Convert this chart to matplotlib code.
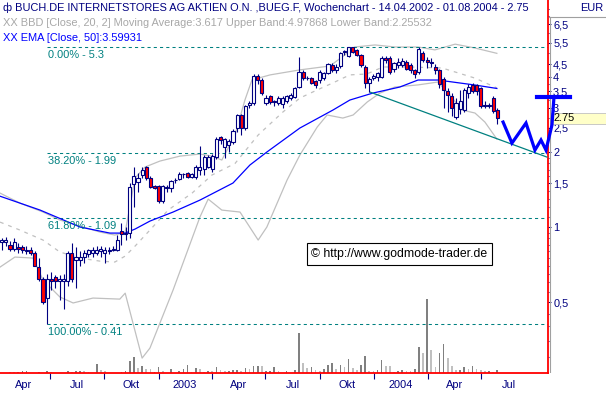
import matplotlib
matplotlib.use("Agg")
import matplotlib.pyplot as plt
from matplotlib.patches import Rectangle
from matplotlib.lines import Line2D
from matplotlib.ticker import FixedLocator, FixedFormatter, NullFormatter
from datetime import date

plt.rcParams['font.family'] = ['Liberation Sans', 'DejaVu Sans']

# ---- weekly candles (week 0 = first bar, 14.04.2002) ----
opens = [0.87, 0.87, 0.85, 0.82, 0.83, 0.83, 0.81, 0.81, 0.79, 0.69,
         0.62, 0.52, 0.62, 0.63, 0.61, 0.61, 0.61, 0.79, 0.74, 0.74,
         0.76, 0.78, 0.79, 0.79, 0.80, 0.79, 0.80, 0.81, 0.81, 0.96,
         0.94, 0.95, 1.49, 1.52, 1.62, 1.74, 1.57, 1.46, 1.46, 1.27,
         1.44, 1.43, 1.54, 1.56, 1.63, 1.65, 1.59, 1.59, 1.70, 1.71,
         1.74, 1.71, 1.91, 2.29, 2.10, 2.13, 2.19, 2.50, 2.81, 2.50,
         3.09, 3.14, 4.04, 3.90, 3.14, 3.35, 3.20, 3.15, 3.12, 3.20,
         3.30, 3.33, 3.65, 4.20, 3.95, 3.97, 3.85, 3.90, 3.97, 4.15,
         4.45, 4.25, 4.42, 5.05, 4.85, 5.28, 5.15, 4.91, 4.38, 3.78,
         3.98, 4.00, 4.00, 4.75, 4.75, 4.30, 4.45, 4.48, 4.60, 4.45,
         4.25, 4.20, 4.98, 4.70, 4.60, 4.40, 4.27, 3.92, 3.52, 3.35,
         2.77, 2.98, 2.95, 3.45, 3.72, 3.70, 3.60, 3.10, 3.08, 3.30,
         2.95]
highs = [0.90, 0.91, 0.88, 0.90, 0.86, 0.85, 0.84, 0.83, 0.80, 0.75,
         0.63, 0.65, 0.66, 0.64, 0.64, 0.65, 0.80, 0.86, 0.83, 0.80,
         0.81, 0.82, 0.83, 0.84, 0.84, 0.83, 0.83, 0.84, 0.93, 1.04,
         1.00, 1.50, 1.74, 1.65, 1.75, 1.76, 1.60, 1.48, 1.48, 1.48,
         1.47, 1.55, 1.58, 1.66, 1.65, 1.67, 1.65, 1.78, 2.11, 1.95,
         1.95, 1.96, 2.30, 2.31, 2.28, 2.25, 2.47, 2.85, 2.85, 3.10,
         3.20, 4.10, 4.12, 3.95, 3.40, 3.40, 3.25, 3.35, 3.35, 3.40,
         3.45, 3.65, 4.80, 4.25, 4.02, 4.00, 3.90, 4.25, 4.20, 4.55,
         4.55, 4.50, 5.05, 5.15, 5.30, 5.30, 5.20, 4.95, 4.45, 4.00,
         4.10, 4.20, 4.85, 4.85, 4.85, 4.60, 4.75, 4.75, 4.70, 4.55,
         4.30, 5.30, 5.10, 4.80, 4.75, 4.50, 4.30, 4.00, 3.60, 3.45,
         3.30, 3.55, 3.60, 3.75, 3.80, 3.75, 3.65, 3.20, 3.15, 3.35,
         3.00]
lows = [0.81, 0.84, 0.80, 0.80, 0.79, 0.79, 0.78, 0.77, 0.70, 0.61,
        0.49, 0.41, 0.56, 0.57, 0.51, 0.47, 0.58, 0.60, 0.57, 0.70,
        0.72, 0.76, 0.76, 0.77, 0.76, 0.72, 0.78, 0.80, 0.80, 0.85,
        0.89, 0.90, 1.20, 1.38, 1.58, 1.55, 1.44, 1.42, 1.25, 1.25,
        1.38, 1.38, 1.50, 1.54, 1.58, 1.57, 1.57, 1.56, 1.62, 1.62,
        1.72, 1.66, 1.88, 2.15, 1.90, 2.00, 2.15, 2.40, 2.35, 2.45,
        3.00, 3.10, 3.75, 3.40, 3.08, 3.12, 3.05, 3.10, 3.00, 3.15,
        3.25, 3.30, 3.60, 3.90, 3.90, 3.75, 3.60, 3.80, 3.90, 4.10,
        4.20, 4.15, 4.35, 4.90, 4.80, 5.00, 4.85, 4.40, 3.60, 3.48,
        3.90, 3.85, 3.95, 4.55, 4.10, 4.20, 4.35, 4.40, 4.25, 4.15,
        3.95, 4.10, 4.60, 4.35, 4.40, 4.10, 3.60, 3.00, 2.90, 2.78,
        2.72, 2.85, 2.90, 3.30, 3.45, 3.40, 3.00, 3.00, 3.00, 2.88,
        2.60]
closes = [0.89, 0.89, 0.82, 0.87, 0.82, 0.81, 0.80, 0.79, 0.70, 0.62,
          0.50, 0.62, 0.61, 0.61, 0.62, 0.62, 0.79, 0.62, 0.76, 0.76,
          0.79, 0.81, 0.81, 0.81, 0.82, 0.81, 0.81, 0.82, 0.89, 0.94,
          0.95, 1.45, 1.60, 1.57, 1.69, 1.57, 1.45, 1.44, 1.27, 1.46,
          1.45, 1.53, 1.55, 1.63, 1.63, 1.59, 1.63, 1.74, 1.74, 1.91,
          1.91, 1.93, 2.25, 2.23, 2.25, 2.21, 2.43, 2.81, 2.50, 3.06,
          3.14, 4.04, 3.90, 3.45, 3.30, 3.17, 3.17, 3.30, 3.30, 3.35,
          3.40, 3.60, 4.20, 3.97, 3.97, 3.80, 3.70, 4.20, 4.15, 4.50,
          4.27, 4.40, 4.98, 5.10, 5.28, 5.05, 4.91, 4.48, 3.78, 3.92,
          4.02, 4.15, 4.77, 4.70, 4.20, 4.55, 4.60, 4.65, 4.30, 4.25,
          4.10, 5.18, 4.70, 4.58, 4.55, 4.27, 3.76, 3.55, 3.39, 3.00,
          3.16, 3.20, 3.55, 3.65, 3.52, 3.50, 3.07, 3.05, 3.05, 2.92,
          2.75]
weeks = list(range(len(closes)))

# ---- volume (relative units), d = dark bar, l = light bar ----
vol_weeks = [2, 3, 4, 5, 6, 9, 11, 12, 16, 17, 18, 19, 20, 21, 23, 24, 25, 29, 30, 31,
             32, 33, 34, 35, 36, 37, 38, 39, 41, 43, 44, 45, 46, 47, 48, 49, 50, 51, 52, 53,
             54, 55, 56, 57, 58, 59, 60, 61, 62, 63, 64, 65, 66, 67, 69, 71, 72, 73, 74, 75,
             76, 77, 78, 79, 80, 81, 82, 83, 84, 85, 86, 87, 88, 89, 90, 91, 92, 93, 94, 95,
             96, 97, 98, 99, 100, 101, 102, 103, 104, 105, 106, 107, 108, 109, 110, 111, 112,
             113, 114, 115, 116, 117, 118, 119, 120]
vol_values = [3, 3, 4, 6, 6, 3, 6, 2, 6, 4, 5, 7, 6, 4, 27, 8, 7, 3, 6, 37,
              48, 15, 21, 12, 11, 4, 18, 6, 12, 7, 12, 24, 4, 15, 12, 4, 6, 6, 18, 9,
              7, 7, 8, 9, 5, 15, 12, 21, 21, 21, 6, 6, 18, 6, 6, 9, 120, 30, 15, 17,
              9, 7, 13, 24, 30, 11, 23, 18, 42, 15, 10, 24, 51, 6, 6, 10, 39, 21, 20, 4,
              6, 9, 7, 7, 12, 78, 61, 222, 69, 19, 61, 87, 45, 20, 9, 10, 18,
              13, 20, 11, 9, 6, 6, 4, 10]
vol_shade = ['l', 'l', 'd', 'd', 'd', 'd', 'd', 'l', 'd', 'l', 'd', 'd', 'l', 'l', 'd', 'l', 'l', 'd', 'd', 'd',
             'd', 'l', 'd', 'l', 'l', 'd', 'd', 'l', 'd', 'd', 'd', 'd', 'l', 'd', 'l', 'l', 'd', 'l', 'd', 'l',
             'l', 'd', 'd', 'd', 'l', 'd', 'l', 'd', 'd', 'l', 'd', 'd', 'd', 'l', 'd', 'd', 'd', 'l', 'l', 'd',
             'l', 'l', 'd', 'd', 'd', 'l', 'd', 'l', 'd', 'l', 'l', 'd', 'd', 'l', 'l', 'd', 'd', 'l', 'l', 'l',
             'd', 'd', 'l', 'l', 'd', 'd', 'l', 'd', 'l', 'l', 'd', 'd', 'l', 'l', 'l', 'd', 'd',
             'l', 'd', 'l', 'l', 'l', 'd', 'l', 'd']

# ---- indicator lines (week, price) ----
ema_weeks = [-0.4, 9.3, 19.0, 26.2, 29.9, 32.3, 35.9, 41.5, 48.0, 56.0, 60.1, 64.2,
             72.2, 80.2, 84.3, 89.9, 96.4, 100.8, 105.6, 114.6, 119.9]
ema_prices = [1.33, 1.17, 1.00, 0.946, 0.946, 0.982, 1.057, 1.149, 1.283, 1.502, 1.774, 2.0,
              2.497, 2.948, 3.234, 3.45, 3.647, 3.891, 3.891, 3.715, 3.599]

bb_up_weeks = [-0.4, 4.4, 10.0, 14.1, 19.0, 23.8, 27.4, 29.9, 31.1, 32.3, 34.7, 38.3, 43.2,
               48.0, 50.9, 53.3, 56.5, 58.9, 60.6, 65.0, 72.2, 79.5, 83.1, 85.5, 90.4,
               95.2, 100.8, 104.9, 109.8, 114.6, 119.9]
bb_up_prices = [1.369, 1.248, 1.149, 1.067, 1.009, 0.955, 0.929, 0.955, 1.225, 1.573, 1.741,
                1.84, 1.927, 1.963, 1.927, 1.858, 2.341, 3.237, 3.895, 4.08, 4.273, 4.43, 4.91,
                5.28, 5.38, 5.28, 5.28, 5.14, 5.42, 5.23, 4.979]

bb_mid_weeks = [-0.4, 4.4, 10.0, 14.1, 19.0, 23.8, 27.4, 29.9, 32.3, 35.9, 40.3, 46.1, 50.9,
                56.5, 62.1, 68.1, 72.2, 76.4, 80.2, 84.3, 88.4, 92.3, 98.4, 106.6, 109.8,
                114.6, 119.9]
bb_mid_prices = [1.047, 0.973, 0.887, 0.794, 0.751, 0.73, 0.724, 0.765, 0.839, 0.973, 1.17,
                 1.369, 1.617, 1.80, 2.341, 2.896, 3.294, 3.551, 3.789, 4.08, 4.113, 4.389,
                 4.389, 4.35, 4.19, 3.96, 3.617]

bb_low_weeks = [-0.4, 3.2, 7.6, 10.0, 14.1, 17.3, 22.1, 28.6, 29.9, 34.0, 35.9, 41.5, 48.0,
                50.0, 53.3, 57.7, 62.1, 64.2, 69.1, 72.2, 76.4, 78.8, 82.6, 85.1, 88.5,
                91.6, 95.2, 100.8, 105.6, 108.5, 111.4, 114.6, 117.0, 119.9]
bb_low_prices = [0.691, 0.758, 0.751, 0.613, 0.524, 0.496, 0.519, 0.514, 0.543, 0.298, 0.327,
                 0.559, 1.097, 1.295, 1.17, 1.149, 0.887, 1.0, 1.544, 1.946, 2.52, 2.817,
                 2.738, 2.817, 3.175, 3.45, 3.647, 3.719, 3.819, 3.39, 2.951, 2.868, 2.639,
                 2.255]

# Fibonacci retracement from the low (week 11) to the high
fib_start_week = 11
fib_levels = [5.3, 1.99, 1.09, 0.41]
fib_labels = ['0.00% - 5.3', '38.20% - 1.99', '61.80% - 1.09', '100.00% - 0.41']

# support trendline
trend_weeks = [89.2, 132.0]
trend_prices = [3.48, 1.91]

# hand drawn projection (blue "W" and bar)
w_weeks = [121.4, 123.55, 126.95, 129.12, 130.58, 131.79, 133.24, 133.73]
w_prices = [2.639, 2.173, 2.615, 2.037, 2.235, 2.037, 2.567, 3.325]
bar_weeks = [129.6, 137.6]
bar_prices = [3.325, 3.325]

ytick_vals = [6.5, 5.5, 4.5, 4, 3.5, 3, 2.5, 2, 1.5, 1, 0.5, 0.25]
ytick_labels = ['6,5', '5,5', '4,5', '4', '3,5', '3', '2,5', '2', '1,5', '1', '0,5', '0,25']

chart_start = date(2002, 4, 10)
quarters = [date(2002, 4, 1), date(2002, 7, 1), date(2002, 10, 1), date(2003, 1, 1),
            date(2003, 4, 1), date(2003, 7, 1), date(2003, 10, 1), date(2004, 1, 1),
            date(2004, 4, 1), date(2004, 7, 1), date(2004, 10, 1)]
quarter_labels = ['Apr', 'Jul', 'Okt', '2003', 'Apr', 'Jul', 'Okt', '2004', 'Apr', 'Jul']

NAVY = '#000080'
RED = '#ff0000'
TEAL = '#008080'
SILVER = '#c0c0c0'

W, H = 606, 397
def fx(px):
    return px / W
def fy(py):
    return 1 - py / H

def week_of(d):
    return (d - chart_start).days / 7.0

fig = plt.figure(figsize=(W / 100, H / 100), dpi=100)
rect = [0, fy(373), 548 / W, 373 / H]
xlim = (-0.41, 132.28)
ylim = (0.2597, 8.15)

# volume panel underneath
axv = fig.add_axes(rect)
axv.bar(vol_weeks, vol_values, width=0.4,
        color=['#808080' if s == 'd' else SILVER for s in vol_shade])
axv.set_xlim(*xlim)
axv.set_ylim(0, 1119)
axv.axis('off')

ax = fig.add_axes(rect)
ax.set_facecolor('none')
ax.set_yscale('log')
ax.set_xlim(*xlim)
ax.set_ylim(*ylim)

# bands and ema
ax.plot(bb_up_weeks, bb_up_prices, color=SILVER, lw=0.9, zorder=2)
ax.plot(bb_low_weeks, bb_low_prices, color=SILVER, lw=0.9, zorder=2)
ax.plot(bb_mid_weeks, bb_mid_prices, color=SILVER, lw=0.9, dashes=(3, 4), zorder=2)
ax.plot(ema_weeks, ema_prices, color='#0000ff', lw=0.9, zorder=3)

# fibonacci levels
for lev, lab in zip(fib_levels, fib_labels):
    ax.plot([fib_start_week, xlim[1]], [lev, lev], color=TEAL, lw=0.75, dashes=(3, 3), zorder=2)
    ax.annotate(lab, xy=(fib_start_week, lev), xytext=(0.3, -2.5), textcoords='offset points',
                ha='left', va='top', color=TEAL, fontsize=7.9, zorder=4)

ax.plot(trend_weeks, trend_prices, color=TEAL, lw=0.9, zorder=3)

# candles
bottoms = [min(o, c) for o, c in zip(opens, closes)]
heights = [abs(c - o) for o, c in zip(opens, closes)]
faces = ['white' if c >= o else RED for o, c in zip(opens, closes)]
ax.vlines(weeks, lows, highs, color=NAVY, lw=0.8, zorder=5)
ax.bar(weeks, heights, bottom=bottoms, width=0.75, color=faces, edgecolor=NAVY,
       linewidth=0.8, zorder=6)

ax.text(0.729, 0.319, '\u00a9 http://www.godmode-trader.de', transform=ax.transAxes,
        ha='center', va='center', fontsize=8.8, color='black', zorder=7,
        bbox=dict(boxstyle='square,pad=0.4', fc='white', ec='black', lw=0.8))

# axes styling
for s in ['top', 'left']:
    ax.spines[s].set_visible(False)
for s in ['right', 'bottom']:
    ax.spines[s].set_color(RED)
    ax.spines[s].set_linewidth(1.3)

ax.yaxis.set_major_locator(FixedLocator(ytick_vals))
ax.yaxis.set_major_formatter(FixedFormatter(ytick_labels))
minor_vals = [v / 100 for v in range(30, 100, 5)] + [v / 10 for v in range(11, 20)] + \
             [v / 100 for v in range(225, 400, 25)] + [v / 10 for v in range(45, 80, 5)]
ax.yaxis.set_minor_locator(FixedLocator(minor_vals))
ax.yaxis.set_minor_formatter(NullFormatter())
ax.tick_params(axis='y', which='both', left=False, right=True, labelleft=False,
               labelright=True, color=NAVY, labelcolor=NAVY, labelsize=7.9, width=0.75)
ax.tick_params(axis='y', which='major', length=2.5, pad=1.2)
ax.tick_params(axis='y', which='minor', length=0.8)

major_x = [week_of(q) for q in quarters[1:-1]]
minor_x = [(week_of(a) + week_of(b)) / 2 for a, b in zip(quarters[:-1], quarters[1:])]
ax.set_xticks(major_x)
ax.set_xticklabels([])
ax.set_xticks(minor_x, labels=quarter_labels, minor=True)
ax.tick_params(axis='x', which='major', length=4, width=0.8, color=NAVY, direction='out')
ax.tick_params(axis='x', which='minor', length=0, pad=5, labelsize=7.9, labelcolor=NAVY)

# hand drawn projection, above the right panel
fig.add_artist(Line2D(w_weeks, w_prices, transform=ax.transData, color='#0000ff', lw=2.3,
                      solid_joinstyle='miter', zorder=12))
fig.add_artist(Line2D(bar_weeks, bar_prices, transform=ax.transData, color='#0000ff', lw=3,
                      zorder=12))

# right panel decorations
fig.add_artist(Line2D([fx(550), fx(550)], [fy(17), fy(372)], color='#a0a0a0', lw=0.8, zorder=9))
fig.add_artist(Line2D([fx(549), 1], [fy(16.5), fy(16.5)], color='#a0a0a0', lw=0.8, zorder=9))
fig.add_artist(Rectangle((fx(549), 0), 1 - fx(549), 24 / H, transform=fig.transFigure,
                         fc='white', ec='none', zorder=10))
fig.add_artist(Rectangle((fx(551), fy(123.5)), fx(55), 10.5 / H, transform=fig.transFigure,
                         fc='#ffffc8', ec='#c0c0c0', lw=0.6, zorder=11))
fig.text(fx(554), fy(118), '%.2f' % closes[-1], ha='left', va='center', fontsize=7.9,
         color='black', zorder=11.5)
fig.text(fx(603), fy(8), 'EUR', ha='right', va='center', fontsize=7.9, color=NAVY)

# header lines
fig.text(fx(3), fy(8), '\u0444 BUCH.DE INTERNETSTORES AG AKTIEN O.N. ,BUEG.F, '
         'Wochenchart - 14.04.2002 - 01.08.2004 - 2.75',
         ha='left', va='center', fontsize=7.9, color=NAVY)
fig.text(fx(3), fy(23), 'XX BBD [Close, 20, 2] Moving Average:3.617 Upper Band:4.97868 '
         'Lower Band:2.25532', ha='left', va='center', fontsize=7.9, color='#a8a8a8')
fig.text(fx(3), fy(38), 'XX EMA [Close, 50]:3.59931', ha='left', va='center',
         fontsize=7.9, color='#0000ff')

fig.savefig('out.png', dpi=100)
